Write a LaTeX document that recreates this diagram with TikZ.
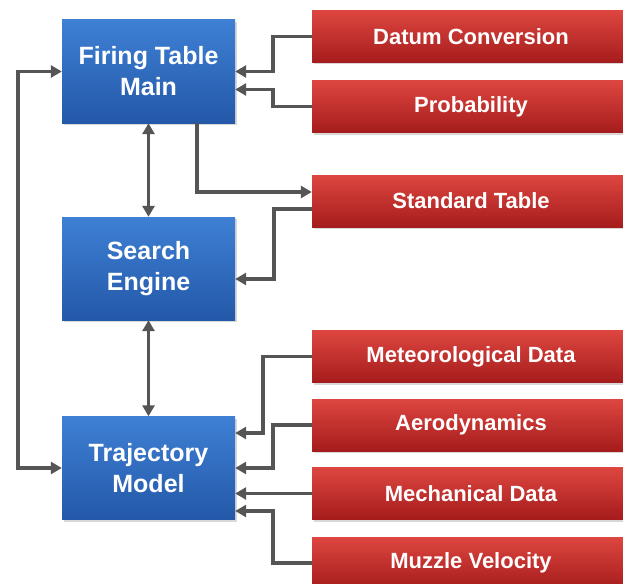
\documentclass[tikz,border=0pt]{standalone}
\usepackage{fontspec}
\setmainfont{Liberation Sans}
\usetikzlibrary{arrows.meta,shadows}
\definecolor{bluetop}{RGB}{62,128,212}
\definecolor{bluebot}{RGB}{36,88,168}
\definecolor{redtop}{RGB}{222,70,64}
\definecolor{redbot}{RGB}{165,28,28}
\definecolor{linegray}{RGB}{85,85,85}
\tikzset{
  bluebox/.style={rectangle, top color=bluetop, bottom color=bluebot, draw=none,
    minimum width=173pt, minimum height=103pt, inner sep=0pt, align=center,
    text=white, font=\fontsize{25}{31}\selectfont\bfseries,
    drop shadow={shadow xshift=1.5pt, shadow yshift=-2pt, opacity=0.3}},
  redbox/.style={rectangle, top color=redtop, bottom color=redbot, draw=none,
    minimum width=318pt, minimum height=52pt, inner sep=0pt,
    text=white, font=\fontsize{22}{26}\selectfont\bfseries,
    drop shadow={shadow xshift=1.5pt, shadow yshift=-2pt, opacity=0.3}},
  conn/.style={draw=linegray, line width=3.2pt,
    -{Triangle[length=11pt,width=12pt]}},
  dconn/.style={draw=linegray, line width=3.2pt,
    {Triangle[length=11pt,width=12pt]}-{Triangle[length=11pt,width=12pt]}}
}
\begin{document}
\begin{tikzpicture}[x=1pt,y=-1pt]
\useasboundingbox (0,0) rectangle (623,583);
\fill[white] (0,0) rectangle (623,583);
% blue boxes
\node[bluebox] (ftm) at (148.5,71.5) {Firing Table\\Main};
\node[bluebox] (se)  at (148.5,268.5) {Search\\Engine};
\node[bluebox] (tm)  at (148.5,468) {Trajectory\\Model};
% red boxes
\node[redbox] (dc) at (471,36.5) {Datum Conversion};
\node[redbox] (pr) at (471,106.5) {Probability};
\node[redbox] (st) at (471,201) {Standard Table};
\node[redbox] (md) at (471,356.5) {Meteorological Data};
\node[redbox] (ae) at (471,425) {Aerodynamics};
\node[redbox] (mc) at (471,493.5) {Mechanical Data};
\node[redbox] (mv) at (471,563) {Muzzle Velocity};
% connectors
\draw[conn] (dc.west) -- (273,36.5) |- (ftm.east);
\draw[conn] (pr.west) -- (273,106.5) |- ([yshift=-18pt]ftm.east);
\draw[conn] ([xshift=48.5pt]ftm.south) |- ([yshift=9pt]st.west);
\draw[conn] ([yshift=-8pt]st.west) -- (274,209) |- ([yshift=-10.5pt]se.east);
\draw[dconn] (ftm.south) -- (se.north);
\draw[dconn] (se.south) -- (tm.north);
\draw[dconn] (ftm.west) -- (18,71.5) -- (18,468) -- (tm.west);
\draw[conn] (md.west) -- (263,356.5) |- ([yshift=35pt]tm.east);
\draw[conn] (ae.west) -- (273,425) |- (tm.east);
\draw[conn] (mc.west) -- (tm.east |- mc.west);
\draw[conn] (mv.west) -- (273,563) |- ([yshift=-43pt]tm.east);
\end{tikzpicture}
\end{document}
